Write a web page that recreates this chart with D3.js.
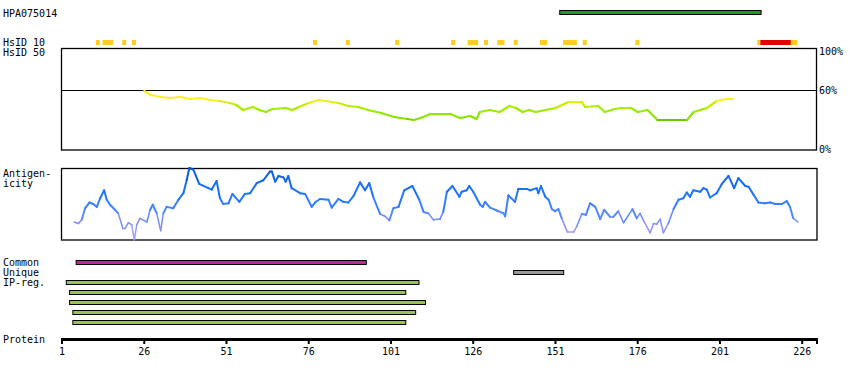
<!DOCTYPE html>
<html><head><meta charset="utf-8">
<script src="https://cdn.jsdelivr.net/npm/d3@7"></script>
<style>
body{margin:0;background:#fff;}
text{font-family:"DejaVu Sans Mono",monospace;font-size:10px;fill:#000;}
</style></head>
<body><svg id="c" width="850" height="380"></svg>
<script>
// ---- data ----
const proteinLength = 230;
const axisTicks = [1, 26, 51, 76, 101, 126, 151, 176, 201, 226];
const antigenName = "HPA075014";
const antigenRange = [152, 212];
const hsid10Yellow = [[11,11],[13,15],[19,19],[22,22],[77,77],[87,87],[102,102],[119,119],[124,126],[129,129],[133,134],[138,138],[146,147],[153,156],[159,159],[175,175],[212,223]];
const hsid10Red = [[213,221]];
const simPos = [26,28,31,34,37,40,43,46,49,52,54,56,59,61,63,65,69,71,73,76,79,81,85,88,91,94,98,102,106,108,110,113,119,122,125,127,128,131,134,137,139,141,143,145,148,151,155,159,160,164,166,169,171,174,176,179,182,191,193,197,200,203,205];
const simVal = [59,55,53,52,53,51,52,50,49,47,45,40,43,40,38,41,42,40,43,47,50,49,47,44,43,40,37,33,31,30,32,36,36,32,34,31,38,40,38,44,42,38,40,38,40,42,48,48,43,44,38,41,42,42,38,40,30,30,38,42,49,51,51];
const antPos = [4.7,6.0,7.0,8.0,9.3,10.5,11.6,12.6,13.8,14.6,15.6,17.1,18.1,19.5,20.2,21.2,22.2,23.0,23.7,24.7,26.8,27.8,28.6,29.8,31.0,31.8,32.8,34.8,36.4,37.9,38.9,39.7,40.9,42.7,45.5,46.5,48.0,49.0,50.0,51.6,52.8,54.9,56.6,58.2,60.2,62.2,64.2,64.8,65.8,66.8,68.3,69.0,69.8,70.8,73.4,74.9,76.9,77.9,79.4,82.0,83.0,85.0,86.5,88.0,89.6,91.6,93.1,94.4,95.6,97.7,99.2,100.5,101.7,103.3,105.0,107.5,109.6,110.9,112.4,113.9,115.9,116.9,118.0,119.7,121.8,122.5,124.0,124.8,126.0,128.1,128.9,129.6,131.1,133.2,135.2,135.7,136.7,138.7,139.7,142.3,143.3,145.3,145.8,146.6,147.9,148.9,149.9,150.9,151.9,152.9,154.6,156.5,157.5,159.0,160.3,161.5,163.1,164.6,165.8,167.6,168.6,170.1,171.7,174.4,175.7,176.7,178.0,179.8,180.8,181.8,182.8,183.8,185.3,186.9,188.4,189.9,190.9,191.9,192.9,195.0,196.0,197.0,198.0,200.0,201.6,203.6,205.3,206.6,208.7,209.7,211.2,212.7,214.7,216.3,217.8,219.8,221.3,222.3,223.3,224.7];
const antVal = [25,23,28,44,52,50,46,58,69,56,49,42,37,16,16,24,21,0,21,30,25,42,49,37,13,37,46,44,56,65,83,100,98,78,72,70,82,58,50,51,64,53,64,65,79,83,95,95,81,89,87,81,89,72,65,64,46,52,57,56,45,57,53,52,61,80,69,79,60,36,33,27,44,46,69,75,56,39,37,28,29,39,67,75,60,67,69,75,67,49,46,53,45,41,37,33,62,53,71,71,69,72,65,75,60,56,43,40,43,30,11,11,19,36,35,51,46,29,42,32,32,40,24,43,30,37,25,10,23,22,29,10,23,43,56,58,66,60,69,67,72,70,59,65,78,89,72,86,75,74,63,52,51,52,50,50,54,46,30,25];
const commonRanges = [[5,92]];
const uniqueRanges = [[138,152]];
const ipRegRanges = [[2,108],[3,104],[3,110],[4,107],[4,104]];
const rowLabels = ["Common","Unique","IP-reg."];

// ---- drawing ----
const svg = d3.select("#c");
const x = d3.scaleLinear().domain([1, proteinLength + 0.5]).range([62, 817]);
const blockX0 = a => x(a + 0.3), blockX1 = b => x(b + 1.5);

// top labels
svg.append("text").attr("x",3).attr("y",17).text(antigenName);
svg.append("text").attr("x",3).attr("y",46).text("HsID 10");
svg.append("text").attr("x",3).attr("y",56).text("HsID 50");

// antigen bar
svg.append("rect").attr("x",blockX0(antigenRange[0])).attr("y",10.5)
  .attr("width",blockX1(antigenRange[1])-blockX0(antigenRange[0])).attr("height",4)
  .attr("fill","#1f9a1f").attr("stroke","#000").attr("stroke-width",1);

// HsID 10 blocks
svg.selectAll(".hy").data(hsid10Yellow).join("rect")
  .attr("x",d=>blockX0(d[0])).attr("y",40).attr("width",d=>blockX1(d[1])-blockX0(d[0])).attr("height",5)
  .attr("fill","#ffcc22");
svg.selectAll(".hr").data(hsid10Red).join("rect")
  .attr("x",d=>blockX0(d[0])).attr("y",40).attr("width",d=>blockX1(d[1])-blockX0(d[0])).attr("height",5)
  .attr("fill","#e00000");

// similarity panel
const ys = d3.scaleLinear().domain([0,100]).range([150,50]);
svg.append("rect").attr("x",61.5).attr("y",48.5).attr("width",755).attr("height",101.5)
  .attr("fill","none").attr("stroke","#000").attr("stroke-width",1.3);
svg.append("line").attr("x1",61.5).attr("x2",816.5).attr("y1",Math.round(ys(60))+0.5).attr("y2",Math.round(ys(60))+0.5)
  .attr("stroke","#000").attr("stroke-width",1.2);
svg.append("text").attr("x",819).attr("y",55).text("100%");
svg.append("text").attr("x",819).attr("y",94).text("60%");
svg.append("text").attr("x",819).attr("y",153).text("0%");
const simColor = d3.scaleLinear().domain([30,31,40,46,50]).range(["#66cc00","#88e000","#99ee00","#ccee00","#ffee22"]).clamp(true);
const simPts = simPos.map((p,i)=>[p,simVal[i]]);
const simSegs = d3.pairs(simPts);
svg.append("g").selectAll("line").data(simSegs).join("line")
  .attr("x1",d=>x(d[0][0])).attr("y1",d=>ys(d[0][1]))
  .attr("x2",d=>x(d[1][0])).attr("y2",d=>ys(d[1][1]))
  .attr("stroke",d=>simColor((d[0][1]+d[1][1])/2)).attr("stroke-width",2.2).attr("stroke-linecap","round");

// antigenicity panel
const ya = d3.scaleLinear().domain([0,100]).range([240,168]);
svg.append("rect").attr("x",61.5).attr("y",168.5).attr("width",755.5).attr("height",71.5)
  .attr("fill","none").attr("stroke","#000").attr("stroke-width",1.3);
svg.append("text").attr("x",3).attr("y",177).text("Antigen-");
svg.append("text").attr("x",3).attr("y",187).text("icity");
const antColor = d3.scaleLinear().domain([0,20,40,60,85,100]).range(["#aaaaff","#8c8cff","#4d88ff","#2277ff","#1166ee","#0050c0"]).clamp(true);
const antPts = antPos.map((p,i)=>[p,antVal[i]]);
svg.append("g").selectAll("line").data(d3.pairs(antPts)).join("line")
  .attr("x1",d=>x(d[0][0])).attr("y1",d=>ya(d[0][1]))
  .attr("x2",d=>x(d[1][0])).attr("y2",d=>ya(d[1][1]))
  .attr("stroke",d=>antColor((d[0][1]+d[1][1])/2))
  .attr("stroke-width",d=>((d[0][1]+d[1][1])/2) < 35 ? 1.5 : 2)
  .attr("stroke-linecap","round");

// region rows
rowLabels.forEach((t,i)=>svg.append("text").attr("x",3).attr("y",266+i*10).text(t));
function bars(data, y0, step, color){
  svg.append("g").selectAll("rect").data(data).join("rect")
    .attr("x",d=>blockX0(d[0])).attr("y",(d,i)=>y0+i*step)
    .attr("width",d=>blockX1(d[1])-blockX0(d[0])).attr("height",4)
    .attr("fill",color).attr("stroke","#000").attr("stroke-width",1);
}
bars(commonRanges, 260.5, 10, "#cc2299");
bars(uniqueRanges, 270.5, 10, "#999999");
bars(ipRegRanges, 280.5, 10, "#99c255");

// protein axis
svg.append("text").attr("x",3).attr("y",343).text("Protein");
svg.append("line").attr("x1",62).attr("x2",818).attr("y1",339.5).attr("y2",339.5).attr("stroke","#000").attr("stroke-width",3);
const ax = svg.append("g");
ax.selectAll("line").data(axisTicks.concat([proteinLength+0.5])).join("line")
  .attr("x1",d=>x(d)).attr("x2",d=>x(d)).attr("y1",338).attr("y2",344)
  .attr("stroke","#000").attr("stroke-width",2);
ax.selectAll("text").data(axisTicks).join("text")
  .attr("x",d=>x(d)).attr("y",355).attr("text-anchor","middle").text(d=>d);
</script></body></html>
